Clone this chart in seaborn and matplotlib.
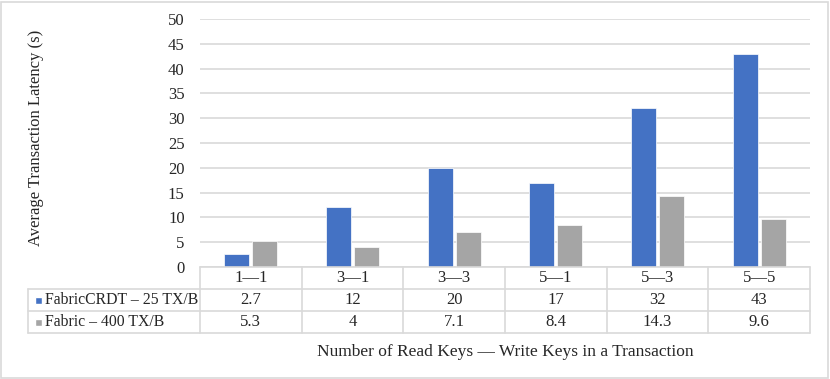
import pandas as pd
import seaborn as sns
import matplotlib.pyplot as plt
from matplotlib.lines import Line2D
from matplotlib.patches import Rectangle

# Chart data
categories = ["1\u20141", "3\u20141", "3\u20143", "5\u20141", "5\u20143", "5\u20145"]
series_names = ["FabricCRDT \u2013 25 TX/B", "Fabric \u2013 400 TX/B"]
crdt_latency = [2.7, 12, 20, 17, 32, 43]
fabric_latency = [5.3, 4, 7.1, 8.4, 14.3, 9.6]
crdt_labels = ["2.7", "12", "20", "17", "32", "43"]
fabric_labels = ["5.3", "4", "7.1", "8.4", "14.3", "9.6"]
y_ticks = [0, 5, 10, 15, 20, 25, 30, 35, 40, 45, 50]

df = pd.DataFrame({
    "keys": categories * 2,
    "latency": crdt_latency + fabric_latency,
    "series": [series_names[0]] * 6 + [series_names[1]] * 6,
})

sns.set_style("white")
plt.rcParams["font.family"] = ["Liberation Serif", "DejaVu Serif"]
plt.rcParams["font.size"] = 11.5

colors = ["#4472C4", "#A5A5A5"]
grid_col = "#D9D9D9"

fig = plt.figure(figsize=(8.3, 3.79), dpi=100)
ax = fig.add_axes([200 / 830, 1 - 267 / 379, 610 / 830, 248 / 379])

sns.barplot(data=df, x="keys", y="latency", hue="series", palette=colors,
            width=0.55, gap=0.1, ax=ax, legend=False, saturation=1,
            edgecolor="white", linewidth=0.5)

ax.set_ylim(0, 50)
ax.set_xlim(-0.5, 5.5)
ax.set_yticks(y_ticks)
ax.yaxis.grid(True, color=grid_col, linewidth=1.2)
ax.set_axisbelow(True)
ax.tick_params(axis="y", length=0, pad=11, labelsize=12)
ax.tick_params(axis="x", length=0, labelbottom=False)
for s in ax.spines.values():
    s.set_visible(False)
ax.set_xlabel("")
ax.set_ylabel("")

ax.text(-164 / 610, 0.52, "Average Transaction Latency (s)", rotation=90,
        ha="center", va="center", fontsize=12, transform=ax.transAxes)

# data table below the axis
rh = 22 / 248
left_ext = -172 / 610
line_kw = dict(color=grid_col, linewidth=1.2, clip_on=False, transform=ax.transAxes)
for y0, x0 in [(0, 0), (-rh, left_ext), (-2 * rh, left_ext), (-3 * rh, left_ext)]:
    ax.add_line(Line2D([x0, 1], [y0, y0], **line_kw))
ax.add_line(Line2D([left_ext, left_ext], [-rh, -3 * rh], **line_kw))
for i in range(7):
    xa = i / 6
    ax.add_line(Line2D([xa, xa], [0, -3 * rh], **line_kw))

xt = ax.get_xaxis_transform()
rows = [categories, crdt_labels, fabric_labels]
for r, vals in enumerate(rows):
    for i, v in enumerate(vals):
        ax.text(i, -(r + 0.5) * rh, v, ha="center", va="center",
                fontsize=12, transform=xt, clip_on=False)

for r, (name, c) in enumerate(zip(series_names, colors)):
    yc = -(r + 1.5) * rh
    ax.add_patch(Rectangle((-165 / 610, yc - 3.5 / 248), 7 / 610, 7 / 248,
                           facecolor=c, transform=ax.transAxes, clip_on=False))
    ax.text(-155 / 610, yc, name, ha="left", va="center", fontsize=11.3,
            transform=ax.transAxes, clip_on=False)

ax.text(0.5, -(352 - 267) / 248, "Number of Read Keys \u2014 Write Keys in a Transaction",
        ha="center", va="center", fontsize=12.5, transform=ax.transAxes)

# outer chart border
fig.patches.append(Rectangle((1 / 830, 1 / 379), 827 / 830, 376 / 379,
                             fill=False, edgecolor=grid_col, linewidth=1.2,
                             transform=fig.transFigure))

fig.savefig("out.png", dpi=100)
